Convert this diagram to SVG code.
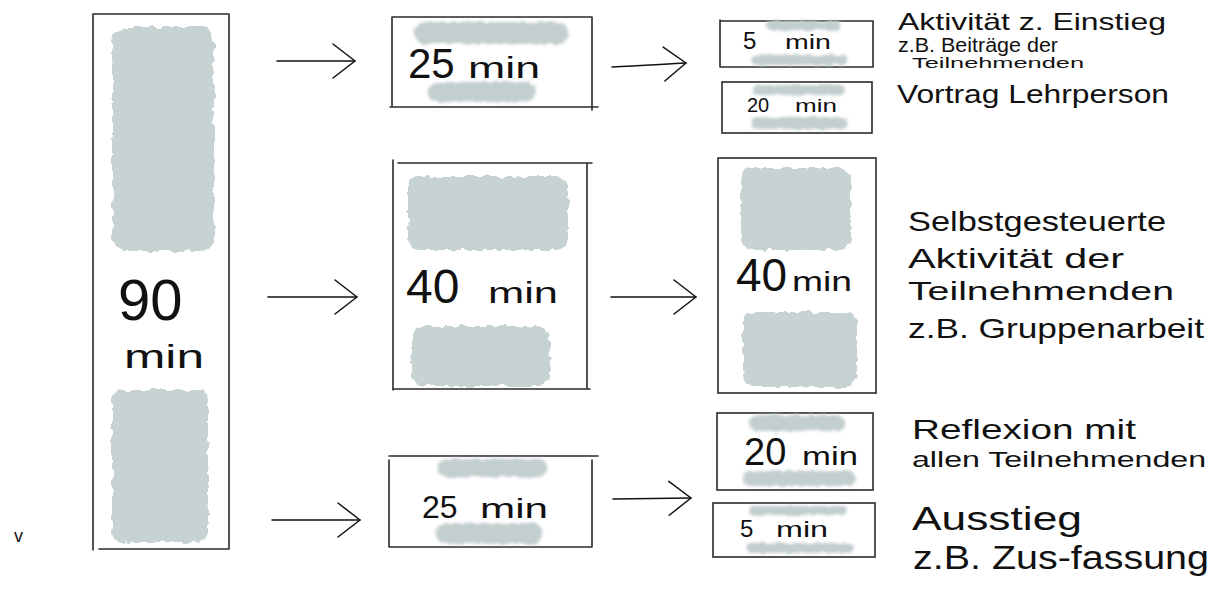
<svg xmlns="http://www.w3.org/2000/svg" width="1215" height="593" viewBox="0 0 1215 593">
<style>
.box{fill:none;stroke:#2a2a2a;stroke-width:1.6;stroke-linecap:round}
.blob{fill:#c7d2d3;filter:url(#rough)}
.stripe{fill:#c3cecf;filter:url(#soft)}
.conn{fill:none;stroke:#111;stroke-width:1.5;stroke-linecap:round;marker-end:url(#head)}
.hw{font-family:"Liberation Sans","DejaVu Sans",sans-serif;fill:#111}
</style>
<defs>
<filter id="rough" x="-10%" y="-10%" width="120%" height="120%">
<feTurbulence type="fractalNoise" baseFrequency="0.12" numOctaves="2" seed="4" result="n"/>
<feDisplacementMap in="SourceGraphic" in2="n" scale="7" xChannelSelector="R" yChannelSelector="G"/>
</filter>
<filter id="soft" x="-10%" y="-40%" width="120%" height="180%">
<feTurbulence type="fractalNoise" baseFrequency="0.15" numOctaves="2" seed="7" result="n"/>
<feDisplacementMap in="SourceGraphic" in2="n" scale="5" xChannelSelector="R" yChannelSelector="G" result="d"/>
<feGaussianBlur in="d" stdDeviation="1.6"/>
</filter>
<marker id="head" viewBox="-25 -20 28 40" markerWidth="28" markerHeight="40" refX="0" refY="0" orient="auto" markerUnits="userSpaceOnUse">
<path d="M-22,-17 L0,0 L-22,17" fill="none" stroke="#111" stroke-width="1.5" stroke-linecap="round" stroke-linejoin="round"/>
</marker>
</defs>
<rect width="1215" height="593" fill="#fff"/>

<g id="connectors">
<path class="conn" d="M277,61 L355,61"/>
<path class="conn" d="M612,67 C640,66 665,64 686,63"/>
<path class="conn" d="M268,297 L357,297"/>
<path class="conn" d="M611,297 L696,297"/>
<path class="conn" d="M272,520 L360,520"/>
<path class="conn" d="M613,499 L691,498"/>
</g>

<g id="node-90">
<path class="box" d="M93,14 L229,14 M93,14 L93,550 M229,14 L229,549 M99,549 L229,549"/>
<rect class="blob" x="112" y="27" width="102" height="224" rx="14"/>
<rect class="blob" x="112" y="390" width="96" height="152" rx="10"/>
<text class="hw" x="118" y="320" font-size="58">90</text>
<text class="hw" x="124" y="368" font-size="34" textLength="80" lengthAdjust="spacingAndGlyphs">min</text>
</g>

<g id="node-25a">
<path class="box" d="M392,17 L592,17 M392,17 L392,107 M592,17 L592,110 M390,107 L598,107"/>
<rect class="stripe" x="414" y="22" width="154" height="22" rx="10"/>
<rect class="stripe" x="428" y="82" width="108" height="20" rx="10"/>
<text class="hw" x="408" y="78" font-size="42">25</text>
<text class="hw" x="468" y="78" font-size="30" textLength="72" lengthAdjust="spacingAndGlyphs">min</text>
</g>

<g id="node-5a">
<path class="box" d="M720,20 L720,67 M720,21 L873,21 L873,67 L720,67"/>
<rect class="stripe" x="766" y="21" width="74" height="9" rx="4"/>
<rect class="stripe" x="751" y="55" width="97" height="10" rx="5"/>
<text class="hw" x="743" y="49" font-size="24">5</text>
<text class="hw" x="785" y="49" font-size="20" textLength="46" lengthAdjust="spacingAndGlyphs">min</text>
</g>

<g id="node-20a">
<rect class="box" x="722" y="82" width="150" height="51"/>
<rect class="stripe" x="753" y="85" width="92" height="10" rx="5"/>
<rect class="stripe" x="751" y="117" width="97" height="12" rx="6"/>
<text class="hw" x="747" y="112" font-size="20">20</text>
<text class="hw" x="795" y="112" font-size="18" textLength="42" lengthAdjust="spacingAndGlyphs">min</text>
</g>

<g id="node-40a">
<path class="box" d="M393,160 L393,390 M398,163 L592,163 M587,163 L587,388 M393,389 L590,389"/>
<rect class="blob" x="408" y="176" width="160" height="74" rx="12"/>
<rect class="blob" x="412" y="326" width="138" height="60" rx="12"/>
<text class="hw" x="406" y="303" font-size="48">40</text>
<text class="hw" x="488" y="303" font-size="30" textLength="70" lengthAdjust="spacingAndGlyphs">min</text>
</g>

<g id="node-40b">
<rect class="box" x="718" y="158" width="158" height="235"/>
<rect class="blob" x="741" y="168" width="110" height="82" rx="12"/>
<rect class="blob" x="743" y="312" width="114" height="75" rx="12"/>
<text class="hw" x="736" y="291" font-size="46">40</text>
<text class="hw" x="792" y="291" font-size="28" textLength="60" lengthAdjust="spacingAndGlyphs">min</text>
</g>

<g id="node-25b">
<path class="box" d="M389,456 L598,456 M389,460 L389,547 M592,460 L592,547 M389,547 L592,547"/>
<rect class="stripe" x="437" y="459" width="110" height="18" rx="9"/>
<rect class="stripe" x="436" y="523" width="106" height="21" rx="10"/>
<text class="hw" x="422" y="518" font-size="32">25</text>
<text class="hw" x="480" y="518" font-size="28" textLength="68" lengthAdjust="spacingAndGlyphs">min</text>
</g>

<g id="node-20b">
<rect class="box" x="717" y="413" width="156" height="77"/>
<rect class="stripe" x="749" y="415" width="96" height="16" rx="8"/>
<rect class="stripe" x="743" y="471" width="112" height="15" rx="7"/>
<text class="hw" x="744" y="465" font-size="38">20</text>
<text class="hw" x="802" y="465" font-size="26" textLength="56" lengthAdjust="spacingAndGlyphs">min</text>
</g>

<g id="node-5b">
<rect class="box" x="713" y="503" width="162" height="54"/>
<rect class="stripe" x="749" y="506" width="98" height="9" rx="4"/>
<rect class="stripe" x="746" y="543" width="108" height="10" rx="5"/>
<text class="hw" x="740" y="537" font-size="24">5</text>
<text class="hw" x="776" y="537" font-size="22" textLength="52" lengthAdjust="spacingAndGlyphs">min</text>
</g>

<g id="label-1">
<text class="hw" x="898" y="30" font-size="24" textLength="268" lengthAdjust="spacingAndGlyphs">Aktivität z. Einstieg</text>
<text class="hw" x="898" y="52" font-size="20" textLength="160" lengthAdjust="spacingAndGlyphs">z.B. Beiträge der</text>
<text class="hw" x="912" y="68" font-size="15" textLength="172" lengthAdjust="spacingAndGlyphs">Teilnehmenden</text>
<text class="hw" x="897" y="103" font-size="26" textLength="272" lengthAdjust="spacingAndGlyphs">Vortrag Lehrperson</text>
</g>

<g id="label-2">
<text class="hw" x="908" y="231" font-size="28" textLength="258" lengthAdjust="spacingAndGlyphs">Selbstgesteuerte</text>
<text class="hw" x="908" y="268" font-size="28" textLength="216" lengthAdjust="spacingAndGlyphs">Aktivität der</text>
<text class="hw" x="908" y="300" font-size="26" textLength="266" lengthAdjust="spacingAndGlyphs">Teilnehmenden</text>
<text class="hw" x="908" y="338" font-size="28" textLength="296" lengthAdjust="spacingAndGlyphs">z.B. Gruppenarbeit</text>
</g>

<g id="label-3">
<text class="hw" x="912" y="439" font-size="28" textLength="224" lengthAdjust="spacingAndGlyphs">Reflexion mit</text>
<text class="hw" x="912" y="467" font-size="22" textLength="294" lengthAdjust="spacingAndGlyphs">allen Teilnehmenden</text>
</g>

<g id="label-4">
<text class="hw" x="912" y="530" font-size="34" textLength="170" lengthAdjust="spacingAndGlyphs">Ausstieg</text>
<text class="hw" x="913" y="569" font-size="34" textLength="296" lengthAdjust="spacingAndGlyphs">z.B. Zus-fassung</text>
</g>

<text class="hw" x="14" y="542" font-size="18">v</text>
</svg>
